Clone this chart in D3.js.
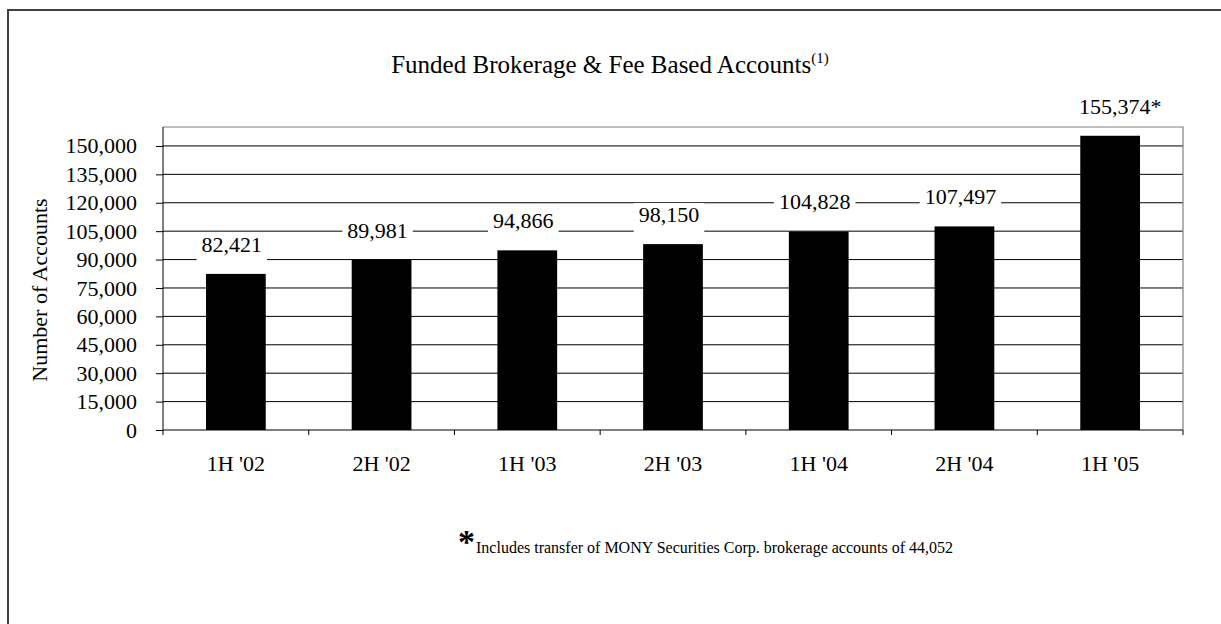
<!DOCTYPE html>
<html>
<head>
<meta charset="utf-8">
<title>Funded Brokerage &amp; Fee Based Accounts</title>
<script src="https://cdn.jsdelivr.net/npm/d3@7"></script>
<style>
  body { margin: 0; background: #fff; }
  text { font-family: "Liberation Serif", "Times New Roman", serif; fill: #000; }
</style>
</head>
<body>
<script>
// chart data
var periods = ["1H '02", "2H '02", "1H '03", "2H '03", "1H '04", "2H '04", "1H '05"];
var accounts = [82421, 89981, 94866, 98150, 104828, 107497, 155374];
var valueNotes = ["", "", "", "", "", "", "*"];
var yTicks = [0, 15000, 30000, 45000, 60000, 75000, 90000, 105000, 120000, 135000, 150000];
var yMax = 160000;

var W = 1221, H = 624;
var plot = {left: 163, top: 127, right: 1183, bottom: 430};

var svg = d3.select("body").append("svg")
    .attr("width", W)
    .attr("height", H);

// outer frame, runs off the right and bottom edges
svg.append("rect")
    .attr("x", 8).attr("y", 10)
    .attr("width", W + 20).attr("height", H + 20)
    .attr("fill", "#fff")
    .attr("stroke", "#404040")
    .attr("stroke-width", 2);

var x = d3.scaleBand()
    .domain(periods)
    .range([plot.left, plot.right])
    .padding(0);

var y = d3.scaleLinear()
    .domain([0, yMax])
    .range([plot.bottom, plot.top]);

var barW = x.bandwidth() * 0.41;
var fmt = d3.format(",");

// gridlines
svg.append("g").selectAll("line")
    .data(yTicks.filter(function (d) { return d > 0; }))
    .enter().append("line")
    .attr("x1", plot.left).attr("x2", plot.right)
    .attr("y1", function (d) { return y(d); })
    .attr("y2", function (d) { return y(d); })
    .attr("stroke", "#000")
    .attr("stroke-width", 1);

// plot area top and right border
svg.append("path")
    .attr("d", "M" + plot.left + "," + plot.top + "H" + plot.right + "V" + plot.bottom)
    .attr("fill", "none")
    .attr("stroke", "#808080")
    .attr("stroke-width", 1.2);

// value labels sit on white boxes that cut the gridlines
var labels = svg.append("g").selectAll("g")
    .data(periods)
    .enter().append("g");

labels.append("rect").attr("fill", "#fff");

labels.append("text")
    .attr("x", function (d, i) { return x(d) + x.bandwidth() / 2 + (valueNotes[i] ? 10 : -4); })
    .attr("y", function (d, i) { return y(accounts[i]) - 22; })
    .attr("text-anchor", "middle")
    .attr("font-size", "22px")
    .text(function (d, i) { return fmt(accounts[i]) + valueNotes[i]; });

labels.each(function () {
    var g = d3.select(this);
    var b = g.select("text").node().getBBox();
    g.select("rect")
        .attr("x", b.x - 5).attr("y", b.y + 1)
        .attr("width", b.width + 10).attr("height", b.height + 4);
});

// bars
svg.append("g").selectAll("rect")
    .data(periods)
    .enter().append("rect")
    .attr("x", function (d) { return x(d) + (x.bandwidth() - barW) / 2; })
    .attr("y", function (d, i) { return y(accounts[i]); })
    .attr("width", barW)
    .attr("height", function (d, i) { return plot.bottom - y(accounts[i]); })
    .attr("fill", "#000");

// y axis
var yAxis = svg.append("g")
    .attr("transform", "translate(" + plot.left + ",0)")
    .call(d3.axisLeft(y).tickValues(yTicks).tickFormat(fmt).tickSize(7).tickSizeOuter(0).tickPadding(19));
yAxis.select(".domain").remove();
yAxis.append("line")
    .attr("x1", 0).attr("x2", 0)
    .attr("y1", plot.top).attr("y2", plot.bottom + 5)
    .attr("stroke", "#000");
yAxis.selectAll("text")
    .attr("font-family", "Liberation Serif")
    .attr("font-size", "22px")
    .attr("fill", "#000");
yAxis.selectAll(".tick line").attr("stroke", "#000");

// x axis
var xAxis = svg.append("g")
    .attr("transform", "translate(0," + plot.bottom + ")");
xAxis.append("line")
    .attr("x1", plot.left).attr("x2", plot.right)
    .attr("stroke", "#000");
xAxis.selectAll(".sep")
    .data(periods.slice(1).concat(["end"]))
    .enter().append("line")
    .attr("class", "sep")
    .attr("x1", function (d, i) { return plot.left + x.bandwidth() * (i + 1); })
    .attr("x2", function (d, i) { return plot.left + x.bandwidth() * (i + 1); })
    .attr("y1", 0).attr("y2", 5)
    .attr("stroke", "#000");
xAxis.selectAll(".lbl")
    .data(periods)
    .enter().append("text")
    .attr("class", "lbl")
    .attr("x", function (d) { return x(d) + x.bandwidth() / 2; })
    .attr("y", 41)
    .attr("text-anchor", "middle")
    .attr("font-size", "22px")
    .text(function (d) { return d; });

// title
var title = svg.append("text")
    .attr("x", 610)
    .attr("y", 73)
    .attr("text-anchor", "middle")
    .attr("font-size", "25px");
title.append("tspan").text("Funded Brokerage & Fee Based Accounts");
title.append("tspan").attr("font-size", "15px").attr("dy", -10).text("(1)");

// y axis title
svg.append("text")
    .attr("transform", "translate(47,290) rotate(-90)")
    .attr("text-anchor", "middle")
    .attr("font-size", "22px")
    .text("Number of Accounts");

// footnote
svg.append("text")
    .attr("x", 458)
    .attr("y", 553)
    .attr("font-size", "34px")
    .attr("font-weight", "bold")
    .text("*");
svg.append("text")
    .attr("x", 476)
    .attr("y", 553)
    .attr("font-size", "16px")
    .text("Includes transfer of MONY Securities Corp. brokerage accounts of 44,052");
</script>
</body>
</html>
